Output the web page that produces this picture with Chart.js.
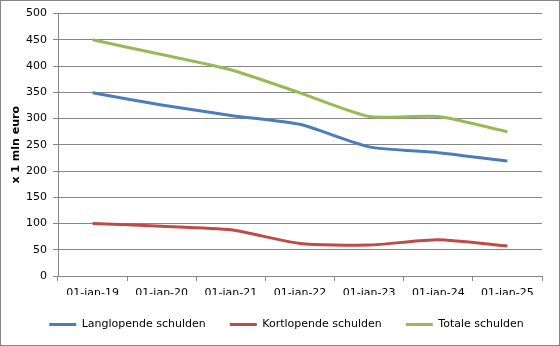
<!DOCTYPE html>
<html>
<head>
<meta charset="utf-8">
<script src="https://cdn.jsdelivr.net/npm/chart.js@4"></script>
<style>
  body { margin: 0; background: #fff; }
  #wrap { width: 560px; height: 346px; box-sizing: border-box; border: 1px solid #868686; }
  canvas { display: block; }
</style>
</head>
<body>
<div id="wrap"><canvas id="chart" width="558" height="344"></canvas></div>
<script>
// data
const labels = ['01-jan-19', '01-jan-20', '01-jan-21', '01-jan-22', '01-jan-23', '01-jan-24', '01-jan-25'];
const langlopend = [349, 326, 306, 289, 246, 235, 219];
const kortlopend = [100, 95, 88, 62, 59, 69, 57];
const totaal = [450, 422, 393, 349, 304, 304, 275];

const font = { family: 'DejaVu Sans', size: 11 };
const gridColor = '#868686';

function line(label, data, color) {
    return {
        label: label,
        data: data,
        borderColor: color,
        backgroundColor: color,
        borderWidth: 3,
        pointRadius: 0,
        tension: 0.2,
        fill: false
    };
}

// keep the legend on one low row, shifted a bit to the right like the original
const legendTweak = {
    id: 'legendTweak',
    afterInit(chart) {
        const lg = chart.legend;
        const fit = lg.fit.bind(lg);
        lg.fit = function () {
            this.maxWidth = 700;
            fit();
            this.height = 50;
        };
        const draw = lg.draw.bind(lg);
        lg.draw = function () {
            this.ctx.save();
            this.ctx.translate(15, 0);
            draw();
            this.ctx.restore();
        };
    }
};

new Chart(document.getElementById('chart'), {
    type: 'line',
    data: {
        labels: labels,
        datasets: [
            line('Langlopende schulden', langlopend, '#4A7EBB'),
            line('Kortlopende schulden', kortlopend, '#BE4B48'),
            line('Totale schulden', totaal, '#98B954')
        ]
    },
    options: {
        responsive: false,
        animation: false,
        layout: { padding: { top: 11, right: 17, left: 0, bottom: 0 } },
        plugins: {
            tooltip: { enabled: false },
            legend: {
                position: 'bottom',
                labels: {
                    font: font,
                    color: '#000',
                    boxWidth: 27,
                    boxHeight: 3,
                    padding: 24,
                    generateLabels: chart => Chart.defaults.plugins.legend.labels.generateLabels(chart).map(l => {
                        l.lineWidth = 0;
                        return l;
                    })
                }
            }
        },
        scales: {
            x: {
                offset: true,
                afterFit: s => { s.height = 19; },
                border: { color: gridColor, width: 1 },
                grid: { offset: true, drawOnChartArea: false, drawTicks: true, tickLength: 5, color: gridColor },
                ticks: { font: font, color: '#000', maxRotation: 0, padding: 6 }
            },
            y: {
                min: 0,
                max: 500,
                afterFit: s => { s.width = 57; },
                border: { color: gridColor, width: 1 },
                grid: { color: gridColor, tickLength: 5 },
                ticks: { stepSize: 50, font: font, color: '#000', padding: 6 },
                title: {
                    display: true,
                    text: 'x 1 mln euro',
                    font: { family: 'DejaVu Sans', size: 11, weight: 'bold' },
                    color: '#000',
                    padding: { top: 9, bottom: 0 }
                }
            }
        }
    },
    plugins: [legendTweak]
});
</script>
</body>
</html>
